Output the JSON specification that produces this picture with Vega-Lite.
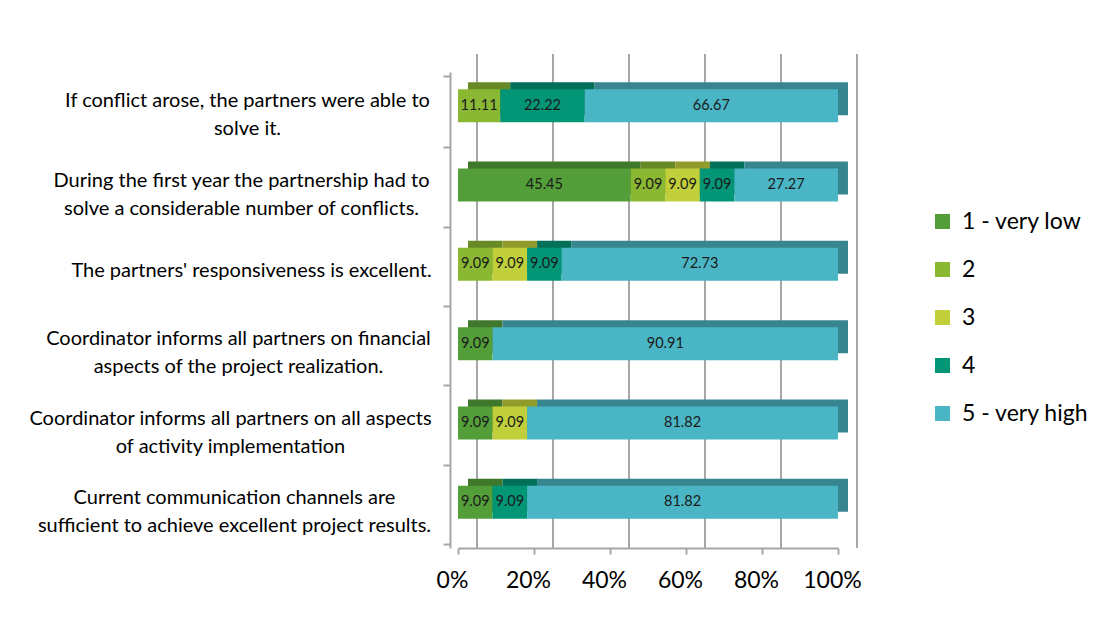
{
  "$schema": "https://vega.github.io/schema/vega-lite/v6.json",
  "width": 380,
  "height": 476,
  "autosize": {"type": "none"},
  "padding": {"left": 458, "top": 72, "right": 266, "bottom": 79},
  "background": "white",
  "config": {
    "view": {"stroke": null},
    "font": "Lato",
    "axis": {"labelFont": "Lato", "labelColor": "#000000", "title": null},
    "legend": {"labelFont": "Lato", "labelColor": "#000000"}
  },
  "resolve": {"scale": {"color": "independent"}},
  "datasets": {
    "answers": [
      {"question": "If conflict arose, the partners were able to|solve it.", "level": "2", "value": 11.11},
      {"question": "If conflict arose, the partners were able to|solve it.", "level": "4", "value": 22.22},
      {"question": "If conflict arose, the partners were able to|solve it.", "level": "5 - very high", "value": 66.67},
      {"question": "During the first year the partnership had to|solve a considerable number of conflicts.", "level": "1 - very low", "value": 45.45},
      {"question": "During the first year the partnership had to|solve a considerable number of conflicts.", "level": "2", "value": 9.09},
      {"question": "During the first year the partnership had to|solve a considerable number of conflicts.", "level": "3", "value": 9.09},
      {"question": "During the first year the partnership had to|solve a considerable number of conflicts.", "level": "4", "value": 9.09},
      {"question": "During the first year the partnership had to|solve a considerable number of conflicts.", "level": "5 - very high", "value": 27.27},
      {"question": "The partners' responsiveness is excellent.", "level": "2", "value": 9.09},
      {"question": "The partners' responsiveness is excellent.", "level": "3", "value": 9.09},
      {"question": "The partners' responsiveness is excellent.", "level": "4", "value": 9.09},
      {"question": "The partners' responsiveness is excellent.", "level": "5 - very high", "value": 72.73},
      {"question": "Coordinator informs all partners on financial|aspects of the project realization.", "level": "1 - very low", "value": 9.09},
      {"question": "Coordinator informs all partners on financial|aspects of the project realization.", "level": "5 - very high", "value": 90.91},
      {"question": "Coordinator informs all partners on all aspects|of activity implementation", "level": "1 - very low", "value": 9.09},
      {"question": "Coordinator informs all partners on all aspects|of activity implementation", "level": "3", "value": 9.09},
      {"question": "Coordinator informs all partners on all aspects|of activity implementation", "level": "5 - very high", "value": 81.82},
      {"question": "Current communication channels are|sufficient to achieve excellent project results.", "level": "1 - very low", "value": 9.09},
      {"question": "Current communication channels are|sufficient to achieve excellent project results.", "level": "4", "value": 9.09},
      {"question": "Current communication channels are|sufficient to achieve excellent project results.", "level": "5 - very high", "value": 81.82}
    ],
    "grid": [
      {"tick": 0}, {"tick": 20}, {"tick": 40}, {"tick": 60}, {"tick": 80}, {"tick": 100}
    ]
  },
  "layer": [
    {
      "data": {"name": "grid"},
      "mark": {"type": "rule", "color": "#a6a6a6", "strokeWidth": 2, "xOffset": 19, "yOffset": -18},
      "encoding": {
        "x": {
          "field": "tick", "type": "quantitative", "scale": {"domain": [0, 100]},
          "axis": {
            "values": [0, 20, 40, 60, 80, 100],
            "labelExpr": "datum.value + '%'",
            "labelOverlap": false,
            "labelFlush": false,
            "grid": false,
            "domainColor": "#a6a6a6", "domainWidth": 2,
            "tickColor": "#a6a6a6", "tickWidth": 2, "tickSize": 6,
            "labelFontSize": 23, "labelPadding": 15, "labelOffset": -6
          }
        }
      }
    },
    {
      "data": {"name": "answers"},
      "mark": {"type": "bar", "size": 33, "xOffset": 10, "x2Offset": 10, "yOffset": -13},
      "encoding": {
        "y": {
          "field": "question", "type": "nominal", "sort": null,
          "axis": {
            "offset": 8,
            "domainColor": "#a6a6a6", "domainWidth": 2,
            "tickColor": "#a6a6a6", "tickWidth": 2, "tickSize": 7, "tickBand": "extent",
            "labelExpr": "split(datum.label, '|')",
            "labelAlign": "center", "labelBaseline": "middle",
            "labelFontSize": 20, "labelLineHeight": 28, "labelLimit": 0,
            "labelOffset": {"expr": "split(datum.value, '|').length > 1 ? -11 : 0"},
            "labelPadding": {"expr": "datum.value == 'If conflict arose, the partners were able to|solve it.' ? 196 : datum.value == 'During the first year the partnership had to|solve a considerable number of conflicts.' ? 202 : datum.value == 'Coordinator informs all partners on financial|aspects of the project realization.' ? 205 : datum.value == 'Coordinator informs all partners on all aspects|of activity implementation' ? 213 : datum.value == 'Current communication channels are|sufficient to achieve excellent project results.' ? 209 : 192"}
          }
        },
        "x": {"field": "value", "type": "quantitative", "stack": "zero"},
        "order": {"field": "level"},
        "color": {
          "field": "level", "type": "nominal", "legend": null,
          "scale": {"domain": ["1 - very low", "2", "3", "4", "5 - very high"], "range": ["#3f772b", "#688a26", "#909b2c", "#027059", "#37858f"]}
        }
      }
    },
    {
      "data": {"name": "answers"},
      "mark": {"type": "bar", "size": 33, "yOffset": -6},
      "encoding": {
        "y": {"field": "question", "type": "nominal", "sort": null},
        "x": {"field": "value", "type": "quantitative", "stack": "zero"},
        "order": {"field": "level"},
        "color": {
          "field": "level", "type": "nominal", "title": null,
          "scale": {"domain": ["1 - very low", "2", "3", "4", "5 - very high"], "range": ["#549e39", "#8ab833", "#c0cf3a", "#029676", "#4ab5c4"]},
          "legend": {
            "orient": "none", "legendX": 473, "legendY": 138,
            "symbolType": "square", "symbolSize": 225, "symbolStrokeWidth": 0,
            "labelFontSize": 23, "rowPadding": 24, "labelOffset": 8
          }
        }
      }
    },
    {
      "data": {"name": "answers"},
      "mark": {"type": "text", "fontSize": 14.5, "color": "#1a1a1a", "yOffset": -6, "baseline": "middle", "align": "center"},
      "encoding": {
        "y": {"field": "question", "type": "nominal", "sort": null},
        "x": {"field": "value", "type": "quantitative", "stack": "zero", "bandPosition": 0.5},
        "order": {"field": "level"},
        "text": {"field": "value", "type": "quantitative", "format": ".2f"}
      }
    }
  ]
}
